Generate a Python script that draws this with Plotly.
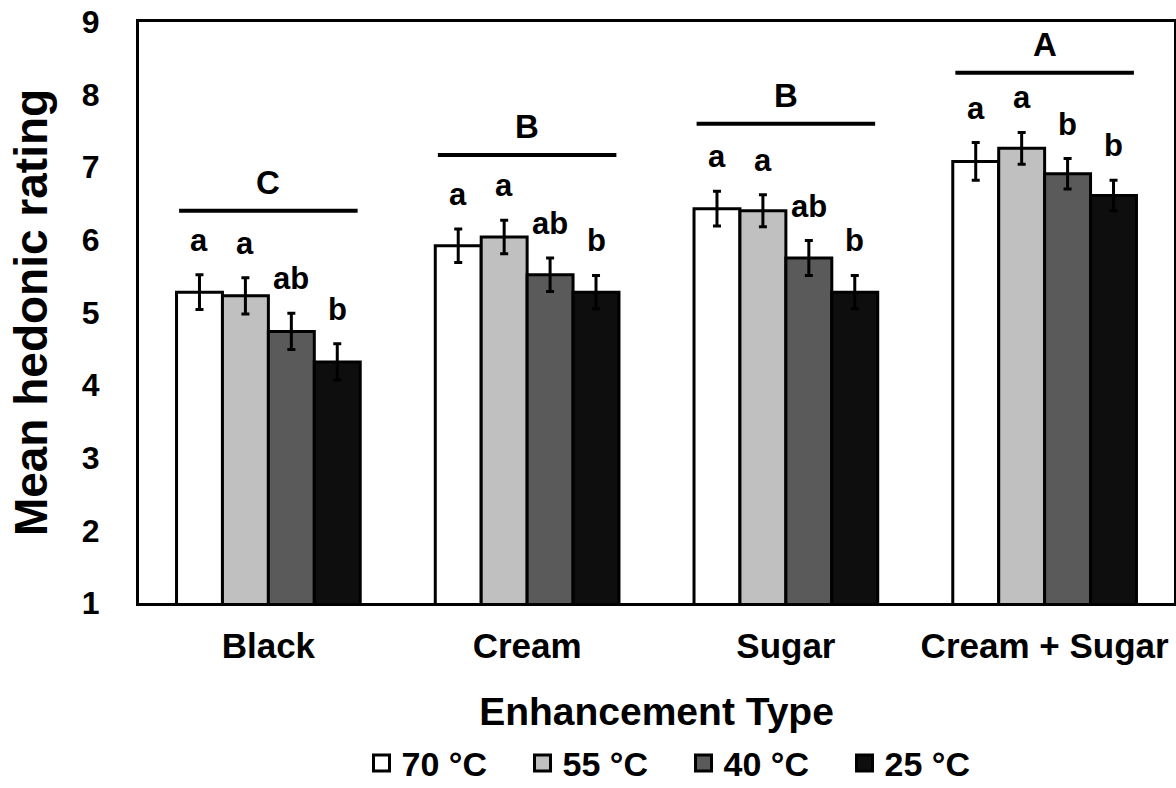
import plotly.graph_objects as go

# ---------------- data ----------------
categories = ["Black", "Cream", "Sugar", "Cream + Sugar"]
temps = ["70 °C", "55 °C", "40 °C", "25 °C"]

mean_70 = [5.28, 5.92, 6.43, 7.08]
mean_55 = [5.23, 6.04, 6.40, 7.26]
mean_40 = [4.74, 5.52, 5.75, 6.91]
mean_25 = [4.32, 5.28, 5.28, 6.61]

err_70 = [0.24, 0.23, 0.24, 0.26]
err_55 = [0.25, 0.23, 0.22, 0.22]
err_40 = [0.25, 0.23, 0.24, 0.21]
err_25 = [0.25, 0.23, 0.23, 0.21]

letters_70 = ["a", "a", "a", "a"]
letters_55 = ["a", "a", "a", "a"]
letters_40 = ["ab", "ab", "ab", "b"]
letters_25 = ["b", "b", "b", "b"]

group_letters = ["C", "B", "B", "A"]
group_line_level = [6.40, 7.17, 7.60, 8.30]

y_ticks = [1, 2, 3, 4, 5, 6, 7, 8, 9]

# ---------------- styling ----------------
FONT = "Liberation Sans, Arial, sans-serif"
fills = ["#FFFFFF", "#C0C0C0", "#5A5A5A", "#0E0E0E"]
BARGAP = 0.29

means = [mean_70, mean_55, mean_40, mean_25]
errs = [err_70, err_55, err_40, err_25]
letters = [letters_70, letters_55, letters_40, letters_25]

fig = go.Figure()
for k in range(4):
    fig.add_trace(go.Bar(
        x=categories, y=means[k], name=temps[k],
        marker=dict(color=fills[k], line=dict(color="black", width=3)),
        error_y=dict(type="data", array=errs[k], visible=True,
                     color="black", thickness=3, width=4),
        showlegend=False,
    ))
    # legend proxies (larger square symbols)
    fig.add_trace(go.Scatter(
        x=[None], y=[None], mode="markers", name=temps[k],
        marker=dict(symbol="square", size=16, color=fills[k],
                    line=dict(color="black", width=3)),
        showlegend=True,
    ))

group_w = 1 - BARGAP
annotations = []
shapes = []
for i in range(len(categories)):
    for k in range(4):
        xc = i - group_w / 2 + (k + 0.5) * group_w / 4
        annotations.append(dict(
            x=xc, y=means[k][i] + errs[k][i], xref="x", yref="y",
            text=letters[k][i], showarrow=False, yanchor="bottom",
            yshift=15, font=dict(family=FONT, size=31, color="black", weight="bold"),
        ))
    half = group_w / 2 - 0.01
    shapes.append(dict(type="line", xref="x", yref="y",
                       x0=i - half, x1=i + half,
                       y0=group_line_level[i], y1=group_line_level[i],
                       line=dict(color="black", width=4)))
    annotations.append(dict(
        x=i, y=group_line_level[i], xref="x", yref="y",
        text=group_letters[i], showarrow=False, yanchor="bottom",
        yshift=8, font=dict(family=FONT, size=33, color="black", weight="bold"),
    ))

fig.update_layout(
    width=1176, height=788,
    margin=dict(l=139, r=2, t=22, b=185, autoexpand=False),
    plot_bgcolor="white", paper_bgcolor="white",
    barmode="group", bargap=BARGAP, bargroupgap=0,
    font=dict(family=FONT, color="black"),
    annotations=annotations, shapes=shapes,
    legend=dict(orientation="h", x=0.215, xanchor="left", y=-0.226, yanchor="top",
                font=dict(family=FONT, size=34, color="black", weight="bold"),
                entrywidth=116, entrywidthmode="pixels",
                bgcolor="rgba(0,0,0,0)", borderwidth=0),
    xaxis=dict(
        showline=True, linecolor="black", linewidth=3, mirror=True,
        ticks="", showgrid=False, ticklabelstandoff=10,
        tickfont=dict(family=FONT, size=35, color="black", weight="bold"),
        title=dict(text="Enhancement Type", standoff=34,
                   font=dict(family=FONT, size=39, color="black", weight="bold")),
    ),
    yaxis=dict(
        range=[1, 9], tickvals=y_ticks,
        showline=True, linecolor="black", linewidth=3, mirror=True,
        ticks="", showgrid=False, zeroline=False, ticklabelstandoff=30,
        tickfont=dict(family=FONT, size=32, color="black", weight="bold"),
        title=dict(text="Mean hedonic rating", standoff=20,
                   font=dict(family=FONT, size=46, color="black", weight="bold")),
    ),
)

fig.write_html("out.html", config={"displayModeBar": False},
               post_script="document.body.style.margin='0';")
